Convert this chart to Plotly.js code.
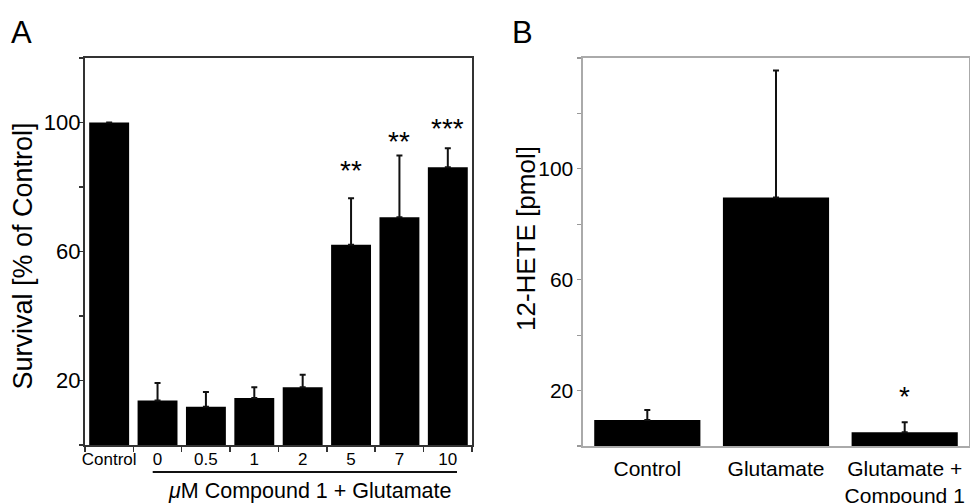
<!DOCTYPE html>
<html>
<head>
<meta charset="utf-8">
<script src="https://cdn.plot.ly/plotly-3.0.1.min.js"></script>
<style>html,body{margin:0;padding:0;background:#fff;}#chart{width:970px;height:503px;}</style>
</head>
<body>
<div id="chart"></div>
<script>
// Panel A data
const catsA = ['Control', '0', '0.5', '1', '2', '5', '7', '10'];
const survival = [100, 13.8, 11.9, 14.6, 17.9, 62.1, 70.6, 86.1];
const survivalErr = [null, 5.4, 4.5, 3.3, 3.9, 14.4, 19.2, 5.9];
const starCatsA = ['5', '7', '10'];
const starLabelsA = ['**', '**', '***'];
const starYA = [85, 94, 98];
const yTicksA = [0, 20, 40, 60, 80, 100, 120];
const yTickTextA = ['', '20', '', '60', '', '100', ''];

// Panel B data
const catsB = ['Control', 'Glutamate', 'Glutamate +<br>Compound 1'];
const hete = [9.4, 89.7, 5.0];
const heteErr = [3.6, 45.8, 3.6];
const starCatsB = ['Glutamate +<br>Compound 1'];
const starLabelsB = ['*'];
const starYB = [18];
const yTicksB = [0, 20, 40, 60, 80, 100, 120, 140];
const yTickTextB = ['', '20', '', '60', '', '100', '', ''];

const FONT = 'Liberation Sans, Arial, Helvetica, sans-serif';

const traceA = {
  type: 'bar', x: catsA, y: survival, xaxis: 'x', yaxis: 'y',
  marker: {color: '#000', line: {width: 0}},
  error_y: {type: 'data', symmetric: false, array: survivalErr,
            arrayminus: survivalErr.map(() => 0), color: '#111', thickness: 2, width: 3},
  hoverinfo: 'x+y'
};
const traceB = {
  type: 'bar', x: catsB, y: hete, xaxis: 'x2', yaxis: 'y2',
  marker: {color: '#000', line: {width: 0}},
  error_y: {type: 'data', symmetric: false, array: heteErr,
            arrayminus: heteErr.map(() => 0), color: '#111', thickness: 2, width: 3},
  hoverinfo: 'x+y'
};

const annotations = [];
starCatsA.forEach((c, i) => annotations.push({
  xref: 'x', yref: 'y', x: catsA.indexOf(c), y: starYA[i], text: starLabelsA[i], showarrow: false,
  font: {family: FONT, size: 28, color: '#000'}, yanchor: 'middle'
}));
starCatsB.forEach((c, i) => annotations.push({
  xref: 'x2', yref: 'y2', x: catsB.indexOf(c), y: starYB[i], text: starLabelsB[i], showarrow: false,
  font: {family: FONT, size: 28, color: '#000'}, yanchor: 'middle'
}));
annotations.push({xref: 'paper', yref: 'paper', x: 0.009, y: 0.935, xanchor: 'left', yanchor: 'middle',
  text: 'A', showarrow: false, font: {family: FONT, size: 31, color: '#000'}});
annotations.push({xref: 'paper', yref: 'paper', x: 0.526, y: 0.935, xanchor: 'left', yanchor: 'middle',
  text: 'B', showarrow: false, font: {family: FONT, size: 31, color: '#000'}});
annotations.push({xref: 'x', yref: 'paper', x: 4.15, y: 0.024, xanchor: 'center', yanchor: 'middle',
  text: '<i>μ</i>M Compound 1 + Glutamate', showarrow: false, font: {family: FONT, size: 21.5, color: '#000'}});
annotations.push({xref: 'paper', yref: 'paper', x: 22.5 / 970, y: 1 - 256 / 503, xanchor: 'center', yanchor: 'middle',
  textangle: -90, text: 'Survival [% of Control]', showarrow: false, font: {family: FONT, size: 27, color: '#000'}});
annotations.push({xref: 'paper', yref: 'paper', x: 526 / 970, y: 1 - 239 / 503, xanchor: 'center', yanchor: 'middle',
  textangle: -90, text: '12-HETE [pmol]', showarrow: false, font: {family: FONT, size: 26, color: '#000'}});

const layout = {
  width: 970, height: 503,
  margin: {l: 0, r: 0, t: 0, b: 0},
  paper_bgcolor: '#fff', plot_bgcolor: '#fff',
  showlegend: false,
  bargap: 0.175,
  font: {family: FONT, color: '#000'},
  xaxis: {
    domain: [0.0876, 0.4866], anchor: 'y', type: 'category', range: [-0.5, catsA.length - 0.5],
    showline: true, mirror: true, linecolor: '#333', linewidth: 2,
    ticks: 'outside', tickson: 'boundaries', ticklen: 5, tickcolor: '#333', tickwidth: 1.5,
    tickangle: 0, ticklabelstandoff: -2,
    tickfont: {family: FONT, size: 17, color: '#000'},
    showgrid: false, zeroline: false, fixedrange: true
  },
  yaxis: {
    domain: [0.1153, 0.8847], anchor: 'x', range: [0, 120],
    tickmode: 'array', tickvals: yTicksA, ticktext: yTickTextA,
    ticks: 'outside', ticklen: 4, tickcolor: '#333', tickwidth: 1.5, ticklabelstandoff: -6,
    showline: true, mirror: true, linecolor: '#333', linewidth: 2,
    tickfont: {family: FONT, size: 22, color: '#000'},
    showgrid: false, zeroline: false, fixedrange: true
  },
  xaxis2: {
    domain: [0.601, 0.999], anchor: 'y2', type: 'category', range: [-0.5, catsB.length - 0.5],
    showline: true, mirror: true, linecolor: '#aaa', linewidth: 1.5,
    ticks: '', ticklabelstandoff: 3, tickangle: 0,
    tickfont: {family: FONT, size: 21, color: '#000'},
    showgrid: false, zeroline: false, fixedrange: true
  },
  yaxis2: {
    domain: [0.1133, 0.8847], anchor: 'x2', range: [0, 140],
    tickmode: 'array', tickvals: yTicksB, ticktext: yTickTextB,
    ticks: 'outside', ticklen: 4, tickcolor: '#999', tickwidth: 1.2,
    showline: true, mirror: true, linecolor: '#aaa', linewidth: 1.5,
    tickfont: {family: FONT, size: 21, color: '#000'},
    showgrid: false, zeroline: false, fixedrange: true
  },
  shapes: [{
    type: 'line', xref: 'x', yref: 'paper', x0: 0.9, x1: catsA.length - 1 + 0.19,
    y0: 0.0616, y1: 0.0616, line: {color: '#111', width: 2}
  }],
  annotations: annotations
};

Plotly.newPlot('chart', [traceA, traceB], layout, {displayModeBar: false, staticPlot: true});
</script>
</body>
</html>
